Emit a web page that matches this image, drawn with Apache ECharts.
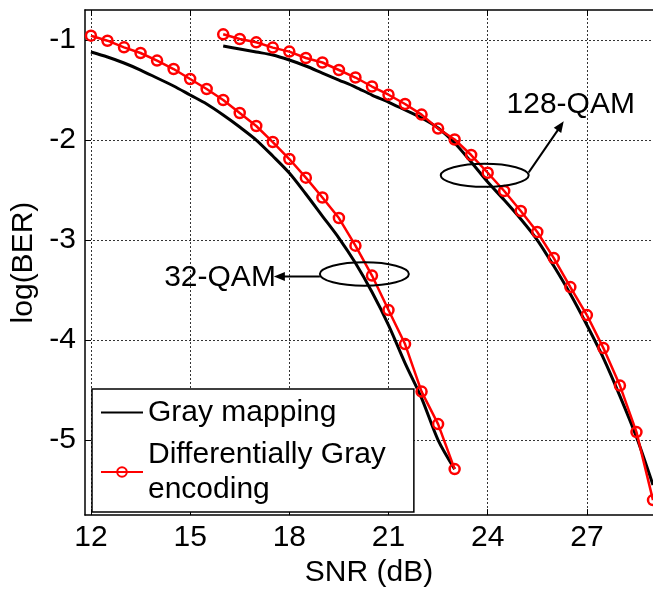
<!DOCTYPE html>
<html><head><meta charset="utf-8">
<script src="https://cdn.jsdelivr.net/npm/echarts@6/dist/echarts.min.js"></script>
<style>html,body{margin:0;padding:0;background:#fff}#c{width:653px;height:593px}</style>
</head><body><div id="c"></div>
<script>
const xTicks = [12, 15, 18, 21, 24, 27];
const yTicks = [-5, -4, -3, -2, -1];

const snr32 = [12,12.5,13,13.5,14,14.5,15,15.5,16,16.5,17,17.5,18,18.5,19,19.5,20,20.5,21,21.5,22,22.5,23];
const gray32 = [-1.12,-1.17,-1.23,-1.30,-1.38,-1.46,-1.55,-1.64,-1.75,-1.87,-2.00,-2.16,-2.33,-2.54,-2.76,-2.98,-3.23,-3.52,-3.85,-4.23,-4.58,-5.00,-5.29];
const diff32 = [-0.957,-1.007,-1.073,-1.13,-1.206,-1.29,-1.39,-1.49,-1.60,-1.73,-1.86,-2.02,-2.19,-2.376,-2.575,-2.78,-3.056,-3.355,-3.70,-4.04,-4.515,-4.84,-5.29];

const snr128 = [16,16.5,17,17.5,18,18.5,19,19.5,20,20.5,21,21.5,22,22.5,23,23.5,24,24.5,25,25.5,26,26.5,27,27.5,28,28.5,29];
const gray128 = [-1.06,-1.09,-1.12,-1.15,-1.20,-1.26,-1.33,-1.40,-1.47,-1.55,-1.62,-1.70,-1.78,-1.88,-2.03,-2.22,-2.42,-2.60,-2.79,-3.00,-3.26,-3.54,-3.85,-4.18,-4.56,-4.97,-5.45];
const diff128 = [-0.943,-0.99,-1.023,-1.076,-1.116,-1.18,-1.225,-1.30,-1.375,-1.465,-1.547,-1.64,-1.746,-1.886,-1.995,-2.15,-2.327,-2.51,-2.71,-2.92,-3.18,-3.47,-3.75,-4.08,-4.455,-4.92,-5.6];

const nameGray = 'Gray mapping';
const nameDiff = 'Differentially Gray\nencoding';
const label32 = '32-QAM';
const label128 = '128-QAM';
const ann32 = [20.27, -3.34];
const ann128 = [23.91, -2.353];

const zip = (xs, ys) => xs.map((x, i) => [x, ys[i]]);
const FONT = 'Arial, "Liberation Sans", sans-serif';
const FS = 30;

const chart = echarts.init(document.getElementById('c'), null, {renderer: 'canvas'});

const grayStyle = {
  type: 'line', name: nameGray, showSymbol: false, symbol: 'none', smooth: 0.3,
  lineStyle: {color: '#000', width: 3},
  itemStyle: {color: 'transparent', borderColor: 'transparent', borderWidth: 0},
  z: 3, clip: false, animation: false
};
const diffStyle = {
  type: 'line', name: nameDiff, symbol: 'circle', symbolSize: 10,
  lineStyle: {color: '#ff0000', width: 2.5},
  itemStyle: {color: 'transparent', borderColor: '#ff0000', borderWidth: 2.5},
  z: 4, clip: false, animation: false
};

chart.setOption({
  animation: false,
  backgroundColor: '#fff',
  grid: {left: 85, right: 0, top: 10, bottom: 76, containLabel: false},
  xAxis: [{
    type: 'value', min: 11.82, max: 29,
    name: 'SNR (dB)', nameLocation: 'middle', nameGap: 41,
    nameTextStyle: {fontSize: FS, fontFamily: FONT, color: '#000'},
    axisLine: {show: true, onZero: false, lineStyle: {color: '#000', width: 1.5}},
    axisTick: {show: true, inside: true, length: 6, customValues: xTicks, lineStyle: {color: '#000', width: 1}},
    axisLabel: {show: true, customValues: xTicks, margin: 8, fontSize: FS, fontFamily: FONT, color: '#000'},
    splitLine: {show: true, lineStyle: {color: '#333', type: [2, 2], width: 1}}
  }, {
    type: 'value', min: 11.82, max: 29, position: 'top',
    axisLine: {show: true, onZero: false, lineStyle: {color: '#000', width: 1.5}},
    axisTick: {show: true, inside: true, length: 6, customValues: xTicks, lineStyle: {color: '#000', width: 1}},
    axisLabel: {show: false},
    splitLine: {show: false}
  }],
  yAxis: [{
    type: 'value', min: -5.75, max: -0.7,
    name: 'log(BER)', nameLocation: 'middle', nameGap: 45, nameRotate: 90,
    nameTextStyle: {fontSize: FS, fontFamily: FONT, color: '#000'},
    axisLine: {show: true, onZero: false, lineStyle: {color: '#000', width: 1.5}},
    axisTick: {show: true, inside: true, length: 6, customValues: yTicks, lineStyle: {color: '#000', width: 1}},
    axisLabel: {show: true, customValues: yTicks, margin: 9, fontSize: FS, fontFamily: FONT, color: '#000'},
    splitLine: {show: true, lineStyle: {color: '#333', type: [2, 2], width: 1}}
  }],
  legend: {
    show: true, orient: 'vertical', left: 92, top: 389,
    data: [nameGray, nameDiff],
    backgroundColor: '#fff', borderColor: '#000', borderWidth: 1.5,
    padding: [6, 28, 5, 8], itemGap: 7, itemWidth: 42, itemHeight: 12,
    textStyle: {fontSize: FS, fontFamily: FONT, color: '#000', lineHeight: 35},
    selectedMode: false, z: 10
  },
  series: [
    Object.assign({}, grayStyle, {data: zip(snr32, gray32)}),
    Object.assign({}, grayStyle, {data: zip(snr128, gray128)}),
    Object.assign({}, diffStyle, {data: zip(snr32, diff32)}),
    Object.assign({}, diffStyle, {data: zip(snr128, diff128)})
  ]
});

function arrowHead(tip, from, len, half) {
  const dx = tip[0] - from[0], dy = tip[1] - from[1];
  const d = Math.hypot(dx, dy), ux = dx / d, uy = dy / d;
  const bx = tip[0] - ux * len, by = tip[1] - uy * len;
  return [tip, [bx - uy * half, by + ux * half], [bx + uy * half, by - ux * half]];
}

const c32 = chart.convertToPixel({gridIndex: 0}, ann32);
const c128 = chart.convertToPixel({gridIndex: 0}, ann128);
const s32 = [c32[0] - 44.5, c32[1] + 2.5], e32 = [c32[0] - 90.5, c32[1] + 2.5];
const s128 = [c128[0] + 44, c128[1] - 3], e128 = [c128[0] + 79, c128[1] - 54];

const graphics = [
  {type: 'ellipse', shape: {cx: c32[0], cy: c32[1], rx: 44.5, ry: 11.7}, style: {fill: 'none', stroke: '#000', lineWidth: 2}, z: 20},
  {type: 'line', shape: {x1: s32[0], y1: s32[1], x2: e32[0] + 8, y2: e32[1]}, style: {stroke: '#000', lineWidth: 2}, z: 20},
  {type: 'polygon', shape: {points: arrowHead(e32, s32, 11, 4.5)}, style: {fill: '#000'}, z: 20},
  {type: 'text', x: e32[0] + 2, y: e32[1] + 1, style: {text: label32, font: FS + 'px ' + FONT, fill: '#000', align: 'right', verticalAlign: 'middle', textAlign: 'right', textVerticalAlign: 'middle'}, z: 19},
  {type: 'ellipse', shape: {cx: c128[0], cy: c128[1], rx: 44, ry: 11.5}, style: {fill: 'none', stroke: '#000', lineWidth: 2}, z: 20},
  {type: 'line', shape: {x1: s128[0], y1: s128[1], x2: e128[0] - 4, y2: e128[1] + 6}, style: {stroke: '#000', lineWidth: 2}, z: 20},
  {type: 'polygon', shape: {points: arrowHead(e128, s128, 11, 4.5)}, style: {fill: '#000'}, z: 20},
  {type: 'text', x: c128[0] + 86, y: c128[1] - 71, style: {text: label128, font: FS + 'px ' + FONT, fill: '#000', align: 'center', verticalAlign: 'middle', textAlign: 'center', textVerticalAlign: 'middle'}, z: 19}
];
chart.setOption({graphic: graphics});
</script>
</body></html>
